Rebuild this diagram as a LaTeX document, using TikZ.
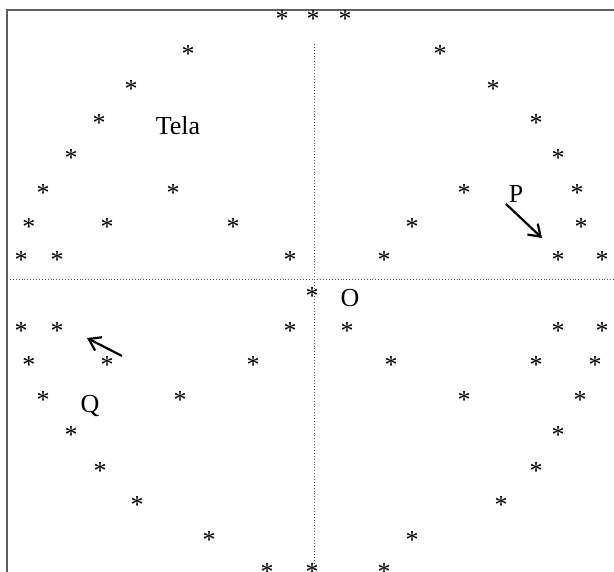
\documentclass[tikz,border=0pt]{standalone}
\usepackage{fontspec}
\setmainfont{Liberation Serif}
\usetikzlibrary{arrows.meta}
\definecolor{framegray}{HTML}{5E5E5E}
\definecolor{axisgray}{HTML}{555555}
\tikzset{
  starmark/.style={anchor=base, inner sep=0pt, font=\fontsize{26}{30}\selectfont},
  lbl/.style={anchor=base, inner sep=0pt, font=\fontsize{26}{30}\selectfont},
  framerule/.style={draw=framegray, line width=1.4pt},
  axisrule/.style={draw=axisgray, dotted, line width=0.9pt},
  motion/.style={-{Straight Barb[length=11pt,width=15pt,line width=2.2pt]}, line width=2.2pt}
}
\begin{document}
\begin{tikzpicture}[x=1pt,y=-1pt]
  \useasboundingbox (0,0) rectangle (614,572);
  \draw[framerule] (7,572) -- (7,10) -- (614,10);
  \draw[axisrule] (7,279) -- (614,279);
  \draw[axisrule] (314,44) -- (314,572);
  \foreach \px/\py [count=\n] in {282/16,313/16,345/16,
      188/51,131/86,99/120,71/155,43/190,173/190,29/224,107/224,233/224,21/257,57/257,290/257,
      440/51,493/86,536/120,558/155,464/190,577/190,412/224,581/224,384/257,558/257,602/257,
      312/293,
      21/328,57/328,290/328,29/362,107/362,253/362,43/397,180/397,71/432,100/467,137/501,209/536,
      347/328,558/328,602/328,391/362,536/362,595/362,464/397,580/397,558/432,536/467,501/501,412/536,
      267/568,312/568,384/568}
    \node[starmark] (star\n) at (\px,\py+12) {*};
  \node[lbl] (tela) at (178,135) {Tela};
  \node[lbl] (p) at (516,203) {P};
  \node[lbl] (q) at (90,413) {Q};
  \node[lbl] (o) at (350,307) {O};
  \coordinate (pfrom) at (506,204);
  \coordinate (pto) at (542,238);
  \coordinate (qfrom) at (122,356);
  \coordinate (qto) at (87,338);
  \draw[motion] (pfrom) -- (pto);
  \draw[motion] (qfrom) -- (qto);
\end{tikzpicture}
\end{document}
